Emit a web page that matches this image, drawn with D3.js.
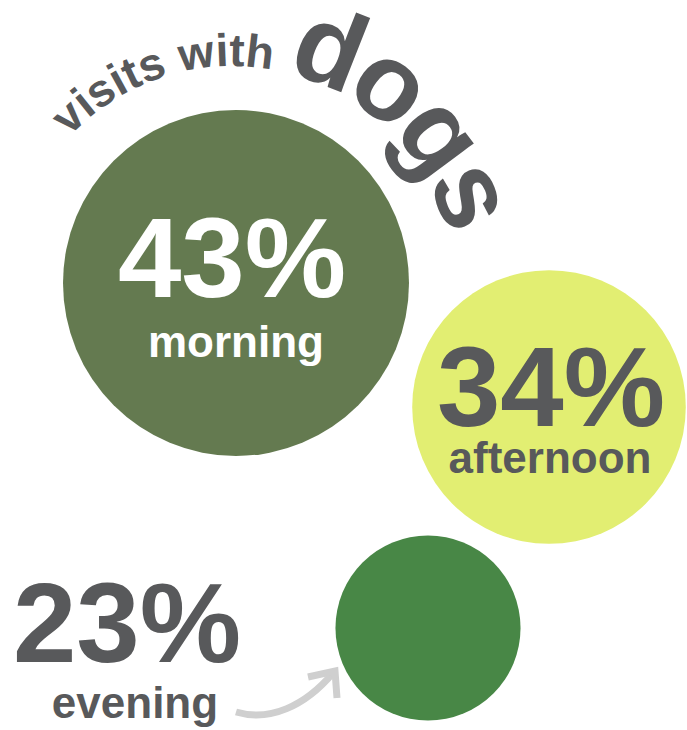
<!DOCTYPE html>
<html>
<head>
<meta charset="utf-8">
<script src="https://cdn.jsdelivr.net/npm/d3@7"></script>
<style>
  body { margin: 0; background: #fff; }
  text { font-family: "Liberation Sans", Arial, sans-serif; font-weight: bold; }
</style>
</head>
<body>
<script>
var width = 687;
var height = 730;

// data
var periods = ['morning', 'afternoon', 'evening'];
var shares = [43, 34, 23];
var titleSmall = 'visits with';
var titleBig = 'dogs';

var grey = '#58595b';

// colour per time of day
var color = d3.scaleOrdinal()
  .domain(periods)
  .range(['#647a50', '#e2ee72', '#488746']);

// radius grows with the share
var r = d3.scaleLinear().domain([0, 43]).range([0, 173]);

// where each bubble sits, and where its label goes
var layout = {
  morning:   {cx: 236, cy: 283, lx: 232, ly: 297, sx: 236, sy: 357, fill: '#fff'},
  afternoon: {cx: 549, cy: 407, lx: 551, ly: 426, sx: 550, sy: 473, fill: grey},
  evening:   {cx: 428, cy: 628, lx: 127, ly: 662, sx: 135, sy: 718, fill: grey}
};

var data = periods.map(function(p, i) {
  return {period: p, share: shares[i]};
});

var svg = d3.select('body')
  .append('svg')
  .attr('width', width)
  .attr('height', height);

// bubbles
svg.selectAll('circle')
  .data(data)
  .enter()
  .append('circle')
  .attr('cx', function(d) { return layout[d.period].cx; })
  .attr('cy', function(d) { return layout[d.period].cy; })
  .attr('r', function(d) { return r(d.share); })
  .attr('fill', function(d) { return color(d.period); });

// big percentages
svg.selectAll('.pct')
  .data(data)
  .enter()
  .append('text')
  .attr('class', 'pct')
  .attr('x', function(d) { return layout[d.period].lx; })
  .attr('y', function(d) { return layout[d.period].ly; })
  .attr('text-anchor', 'middle')
  .attr('font-size', 114)
  .attr('fill', function(d) { return layout[d.period].fill; })
  .text(function(d) { return d.share + '%'; });

// period names
svg.selectAll('.name')
  .data(data)
  .enter()
  .append('text')
  .attr('class', 'name')
  .attr('x', function(d) { return layout[d.period].sx; })
  .attr('y', function(d) { return layout[d.period].sy; })
  .attr('text-anchor', 'middle')
  .attr('font-size', 44)
  .attr('fill', function(d) { return layout[d.period].fill; })
  .text(function(d) { return d.period; });

// arrow from "evening" to its bubble
svg.append('path')
  .attr('d', 'M236,712 C270,722 305,706 333,673')
  .attr('fill', 'none')
  .attr('stroke', '#cfcfcf')
  .attr('stroke-width', 7);
svg.append('path')
  .attr('d', 'M308,677 L335,671 L337,698')
  .attr('fill', 'none')
  .attr('stroke', '#cfcfcf')
  .attr('stroke-width', 7);

// curved title
var arcR = 222;
var deg = Math.PI / 180;
var arcPath = d3.path();
arcPath.arc(232, 288, arcR, -137 * deg, -5 * deg, false);

svg.append('path')
  .attr('id', 'titleArc')
  .attr('d', arcPath.toString())
  .attr('fill', 'none');

var title = svg.append('text')
  .attr('fill', grey)
  .append('textPath')
  .attr('href', '#titleArc');

title.append('tspan')
  .attr('font-size', 46)
  .text(titleSmall + ' ');
title.append('tspan')
  .attr('font-size', 110)
  .attr('letter-spacing', -6)
  .text(titleBig);
</script>
</body>
</html>
